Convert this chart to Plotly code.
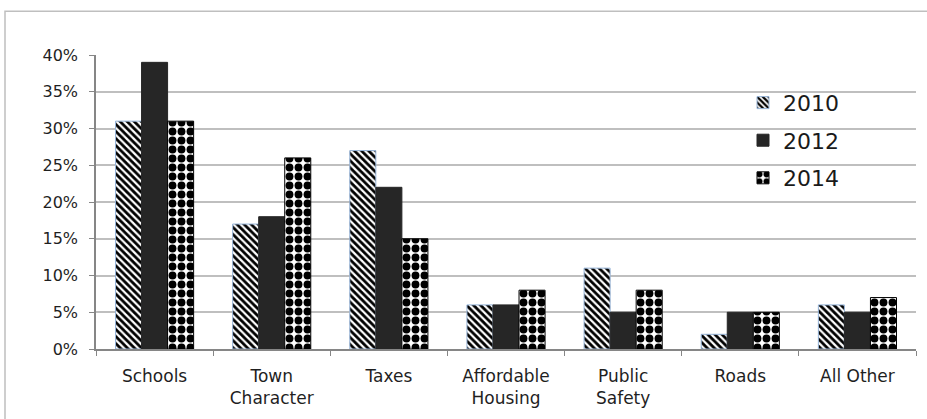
import plotly.graph_objects as go

categories = ["Schools", "Town<br>Character", "Taxes", "Affordable<br>Housing", "Public<br>Safety", "Roads", "All Other"]
years = ["2010", "2012", "2014"]
v2010 = [31, 17, 27, 6, 11, 2, 6]
v2012 = [39, 18, 22, 6, 5, 5, 5]
v2014 = [31, 26, 15, 8, 8, 5, 7]
tick_vals = [0, 5, 10, 15, 20, 25, 30, 35, 40]
tick_text = ["0%", "5%", "10%", "15%", "20%", "25%", "30%", "35%", "40%"]

fig = go.Figure()
fig.add_trace(go.Bar(
    name=years[0], x=categories, y=v2010, legendgroup="a",
    marker=dict(color="white", line=dict(color="#95b3d7", width=1),
                pattern=dict(shape="\\", fgcolor="black", bgcolor="white", size=5,
                             solidity=0.55, fgopacity=1)),
))
fig.add_trace(go.Bar(
    name=years[1], x=categories, y=v2012, legendgroup="b",
    marker=dict(color="#262626", line=dict(color="#262626", width=1)),
))
fig.add_trace(go.Bar(
    name=years[2], x=categories, y=v2014, legendgroup="c",
    marker=dict(color="white", line=dict(color="black", width=1),
                pattern=dict(shape=".", fgcolor="black", bgcolor="white", size=9,
                             solidity=0.6, fgopacity=1)),
))

W, H = 927, 419
l, r, t, b = 96, 11, 55, 68
pw, ph = W - l - r, H - t - b

fig.update_layout(
    width=W, height=H,
    margin=dict(l=l, r=r, t=t, b=b),
    paper_bgcolor="white", plot_bgcolor="white",
    barmode="group", bargap=0.333, bargroupgap=0,
    font=dict(family="DejaVu Sans", size=15, color="#1f1f1f"),
    legend=dict(x=(743 - l) / pw, y=(351 - 82) / ph, xanchor="left", yanchor="top",
                bgcolor="rgba(0,0,0,0)", font=dict(size=22, color="#1a1a1a"),
                tracegroupgap=6, itemwidth=30),
    xaxis=dict(showline=True, linecolor="#868686", linewidth=1.5, ticks="outside",
               ticklen=5, tickcolor="#868686", tickson="boundaries",
               showgrid=False, tickfont=dict(size=17), ticklabelstandoff=11),
    yaxis=dict(range=[0, 40], tickvals=tick_vals, ticktext=tick_text,
               showline=True, linecolor="#868686", linewidth=1.5, ticks="outside",
               ticklen=5, tickcolor="#868686", showgrid=True, gridcolor="#bfbfbf",
               gridwidth=2, zeroline=False, tickfont=dict(size=16), ticklabelstandoff=8),
    shapes=[dict(type="rect", xref="paper", yref="paper",
                 x0=(5 - l) / pw, x1=(W + 20 - l) / pw,
                 y0=(351 - H - 20) / ph, y1=(351 - 11) / ph,
                 line=dict(color="#bfbfbf", width=1.5), layer="below")],
)

fig.write_html("out.html")
